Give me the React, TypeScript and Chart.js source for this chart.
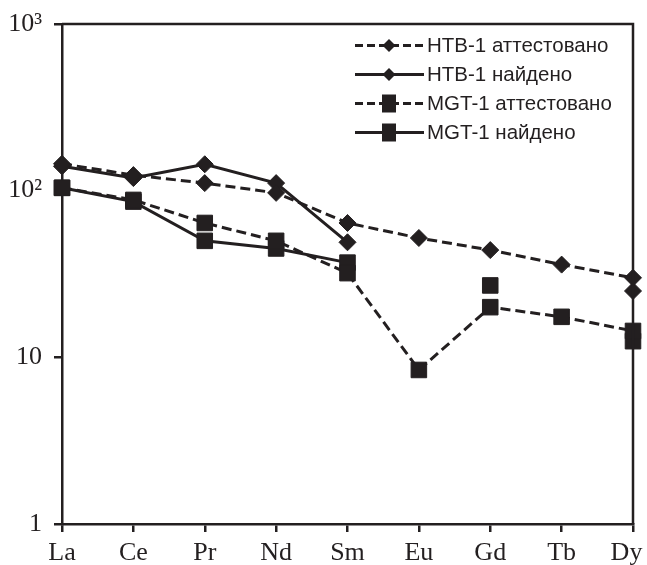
import React, { useEffect, useRef } from 'react';
import { Chart, registerables } from 'chart.js';

Chart.register(...registerables);

const elements = ['La', 'Ce', 'Pr', 'Nd', 'Sm', 'Eu', 'Gd', 'Tb', 'Dy'];
const htbCertified = [145, 124, 111, 97, 64, 52, 44, 36, 30];
const htbFound = [140, 119, 144, 111, 49, null, null, null, 25];
const mgtCertified = [104, 88, 64, 50, 32, 8.4, 20, 17.5, 14.4];
const mgtFound = [104, 86, 50, 45, 37, null, 27, null, 12.5];
const seriesLabels = ['HTB-1 аттестовано', 'HTB-1 найдено', 'MGT-1 аттестовано', 'MGT-1 найдено'];
const yTickValues = [1, 10, 100, 1000];
const yTickLabels = ['1', '10', '10²', '10³'];

const INK = '#231f20';
const DASH = [10, 5];

const framePlugin = {
  id: 'frameAndLegend',
  afterDraw(chart: any) {
    const { ctx, chartArea } = chart;
    ctx.save();
    ctx.strokeStyle = INK;
    ctx.lineWidth = 2.5;
    ctx.beginPath();
    ctx.moveTo(chartArea.left, chartArea.top);
    ctx.lineTo(chartArea.right, chartArea.top);
    ctx.lineTo(chartArea.right, chartArea.bottom);
    ctx.stroke();

    // legend
    const rows = [45.5, 74.5, 103.5, 132.5];
    const x0 = 355;
    const x1 = 424;
    const mx = 389;
    chart.data.datasets.forEach((ds: any, i: number) => {
      const y = rows[i];
      ctx.strokeStyle = INK;
      ctx.fillStyle = INK;
      ctx.lineWidth = 3;
      ctx.setLineDash(ds.borderDash && ds.borderDash.length ? [8, 4] : []);
      ctx.beginPath();
      ctx.moveTo(x0, y);
      ctx.lineTo(x1, y);
      ctx.stroke();
      ctx.setLineDash([]);
      ctx.beginPath();
      if (ds.pointStyle === 'rectRot') {
        ctx.moveTo(mx, y - 6.5);
        ctx.lineTo(mx + 6.5, y);
        ctx.lineTo(mx, y + 6.5);
        ctx.lineTo(mx - 6.5, y);
        ctx.closePath();
      } else {
        ctx.rect(mx - 7, y - 9, 14, 18);
      }
      ctx.fill();
      ctx.font = '20.5px "Liberation Sans", Arial, sans-serif';
      ctx.textAlign = 'left';
      ctx.textBaseline = 'middle';
      ctx.fillText(ds.label, 427, y + 1);
    });
    ctx.restore();
  },
};

export default function App() {
  const canvasRef = useRef<HTMLCanvasElement | null>(null);

  useEffect(() => {
    document.body.style.margin = '0';
    const canvas = canvasRef.current;
    if (!canvas) return;

    const mk = (label: string, data: (number | null)[], dashed: boolean, style: string, radius: number) => ({
      label,
      data,
      borderColor: INK,
      backgroundColor: INK,
      borderWidth: 3,
      borderDash: dashed ? DASH : [],
      pointStyle: style,
      pointRadius: radius,
      pointHoverRadius: radius,
      pointBorderWidth: 1,
      pointBorderColor: INK,
      pointBackgroundColor: INK,
      spanGaps: false,
      tension: 0,
      fill: false,
    });

    const chart = new Chart(canvas, {
      type: 'line',
      data: {
        labels: elements,
        datasets: [
          mk(seriesLabels[0], htbCertified, true, 'rectRot', 8.5),
          mk(seriesLabels[1], htbFound, false, 'rectRot', 8.5),
          mk(seriesLabels[2], mgtCertified, true, 'rect', 11),
          mk(seriesLabels[3], mgtFound, false, 'rect', 11),
        ] as any,
      },
      options: {
        responsive: true,
        maintainAspectRatio: false,
        animation: false,
        layout: { padding: { top: 24, right: 14, left: 0, bottom: 0 } },
        plugins: {
          legend: { display: false },
          tooltip: { enabled: false },
        },
        scales: {
          x: {
            type: 'category',
            offset: false,
            grid: {
              display: true,
              drawOnChartArea: false,
              drawTicks: true,
              tickLength: 8,
              color: INK,
              lineWidth: 2.5,
            },
            border: { display: true, color: INK, width: 2.5 },
            ticks: {
              color: INK,
              padding: 6,
              maxRotation: 0,
              autoSkip: false,
              font: { family: '"Liberation Serif", "Times New Roman", serif', size: 26 },
              callback: (_v: any, index: number) =>
                index === elements.length - 1 ? elements[index] + '\u2002' : elements[index],
            },
            afterFit: (scale: any) => {
              scale.height = 41;
              scale.paddingLeft = 0;
              scale.paddingRight = 0;
            },
          },
          y: {
            type: 'logarithmic',
            min: 1,
            max: 1000,
            grid: {
              display: true,
              drawOnChartArea: false,
              drawTicks: true,
              tickLength: 8,
              color: INK,
              lineWidth: 2.5,
            },
            border: { display: true, color: INK, width: 2.5 },
            afterBuildTicks: (scale: any) => {
              scale.ticks = yTickValues.map((v) => ({ value: v }));
            },
            ticks: {
              color: INK,
              padding: 12,
              font: { family: '"Liberation Serif", "Times New Roman", serif', size: 26 },
              callback: (value: any) => {
                const idx = yTickValues.indexOf(Number(value));
                return idx >= 0 ? yTickLabels[idx] : '';
              },
            },
            afterFit: (scale: any) => {
              scale.width = 62;
              scale.paddingTop = 0;
              scale.paddingBottom = 0;
            },
          },
        },
      } as any,
      plugins: [framePlugin],
    });

    return () => chart.destroy();
  }, []);

  return (
    <div style={{ position: 'relative', width: 647, height: 565 }}>
      <canvas ref={canvasRef} />
    </div>
  );
}
